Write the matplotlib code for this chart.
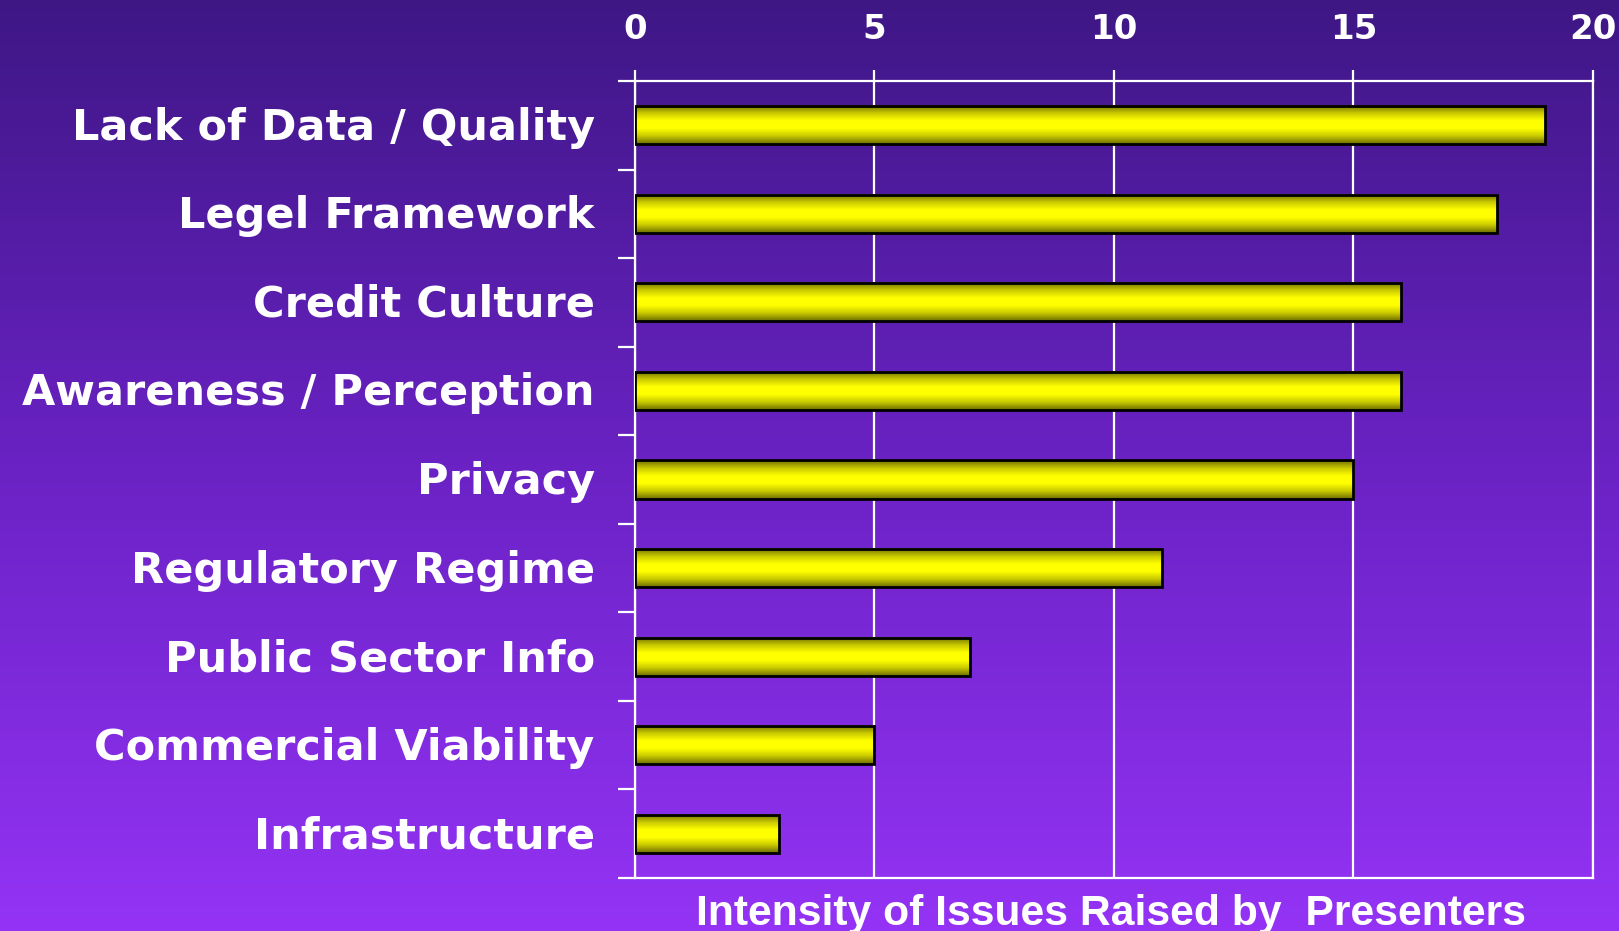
import numpy as np
import matplotlib
matplotlib.use('Agg')
import matplotlib.pyplot as plt
import matplotlib.transforms as mtransforms
from matplotlib.colors import LinearSegmentedColormap

# data
issues = ['Lack of Data / Quality', 'Legel Framework', 'Credit Culture',
          'Awareness / Perception', 'Privacy', 'Regulatory Regime',
          'Public Sector Info', 'Commercial Viability', 'Infrastructure']
intensity = [19, 18, 16, 16, 15, 11, 7, 5, 3]
x_ticks = [0, 5, 10, 15, 20]
x_title = 'Intensity of Issues Raised by  Presenters'

fig = plt.figure(figsize=(16.19, 9.31), dpi=100)

# purple background gradient over the whole figure
bg = fig.add_axes([0, 0, 1, 1], zorder=-10)
bg_cmap = LinearSegmentedColormap.from_list('bg', ['#3e1785', '#6a22c4', '#9433f5'])
bg.imshow(np.linspace(0, 1, 256).reshape(-1, 1), aspect='auto', cmap=bg_cmap,
          extent=[0, 1, 1, 0])
bg.axis('off')

ax = fig.add_axes([0.3922, 0.0569, 0.5917, 0.8561])
ax.patch.set_alpha(0)

n = len(issues)
ypos = np.arange(n)
h = 0.43

bar_cmap = LinearSegmentedColormap.from_list(
    'bar', ['#6e6e00', '#c8c800', '#ffff00', '#ffff00', '#c8c800', '#6e6e00'])
grad = np.linspace(0, 1, 100).reshape(-1, 1)
bars = ax.barh(ypos, intensity, height=h, color='none', edgecolor='black',
               linewidth=2, zorder=4)
for b in bars:
    x0, y0 = b.get_x(), b.get_y()
    ax.imshow(grad, aspect='auto', cmap=bar_cmap, zorder=3,
              extent=[x0, x0 + b.get_width(), y0 + b.get_height(), y0])

ax.set_xlim(0, 20)
ax.set_ylim(n - 0.5, -0.5)

# x axis on top
ax.xaxis.tick_top()
ax.set_xticks(x_ticks)
ax.set_xticklabels([str(t) for t in x_ticks])
ax.tick_params(axis='x', colors='white', length=8, width=1.6, pad=17,
               labelsize=24.5)
for lab in ax.get_xticklabels():
    lab.set_fontweight('bold')
    lab.set_family('DejaVu Sans')
ax.grid(axis='x', color='white', linewidth=1.6, zorder=1)

# category labels at centres, tick marks at boundaries
ax.set_yticks(ypos)
ax.set_yticklabels(issues)
ax.set_yticks(np.arange(n + 1) - 0.5, minor=True)
ax.tick_params(axis='y', which='major', length=0, pad=29, labelsize=31,
               labelcolor='white')
ax.tick_params(axis='y', which='minor', length=12, width=1.6, color='white')
nudge = mtransforms.ScaledTranslation(0, 2 / 100, fig.dpi_scale_trans)
for lab in ax.get_yticklabels():
    lab.set_fontweight('bold')
    lab.set_family('DejaVu Sans')
    lab.set_transform(lab.get_transform() + nudge)

for s in ax.spines.values():
    s.set_color('white')
    s.set_linewidth(1.6)

fig.text(0.6865, 0.0064, x_title, ha='center', va='baseline', color='white',
         fontsize=30.7, fontweight='bold', family='Liberation Sans')

fig.savefig('out.png', dpi=100)
